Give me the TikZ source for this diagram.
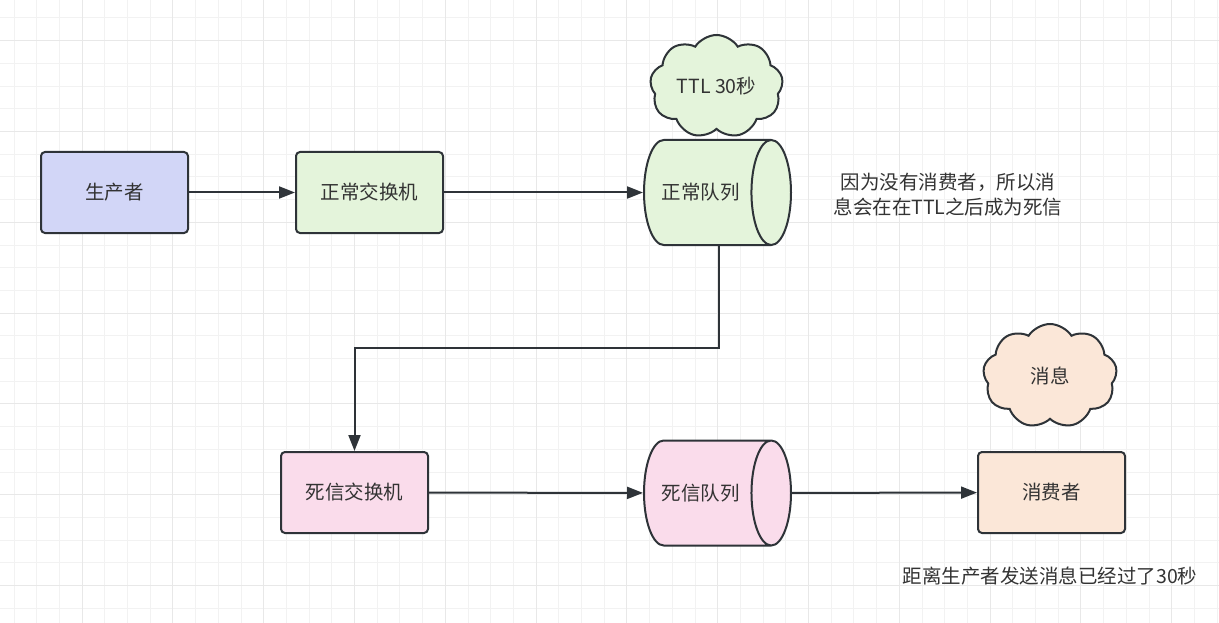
\documentclass[tikz,border=0pt]{standalone}
\usepackage{fontspec}
\setmainfont{Noto Sans CJK SC}
\usepackage{xcolor}
\usepackage{tikz}
\usetikzlibrary{shapes.geometric}
\usetikzlibrary{shapes.symbols}
\usetikzlibrary{arrows.meta}
\definecolor{gridminor}{HTML}{F2F2F2}
\definecolor{gridmajor}{HTML}{E8E8E8}
\definecolor{edge}{HTML}{2E3338}
\definecolor{txt}{HTML}{333333}
\definecolor{prodblue}{HTML}{D2D6F7}
\definecolor{normgreen}{HTML}{E4F4DB}
\definecolor{deadpink}{HTML}{FADCEB}
\definecolor{conspeach}{HTML}{FBE7D8}
\tikzset{box/.style={draw=edge, line width=2pt, rounded corners=4pt, minimum width=147pt, minimum height=81pt, text=txt}}
\tikzset{queue/.style={draw=edge, line width=2pt, cylinder, aspect=1.6, minimum width=105pt, minimum height=147pt, cylinder uses custom fill, text=txt, anchor=west}}
\tikzset{puff/.style={draw=edge, line width=2pt, cloud, cloud puffs=9, cloud puff arc=115, cloud ignores aspect, text=txt}}
\tikzset{arr/.style={draw=edge, line width=2pt, -{Triangle[length=16pt,width=12pt]}}}

\begin{document}
\begin{tikzpicture}[x=1pt,y=-1pt,font=\fontsize{19.5}{25}\selectfont]
{
\useasboundingbox (0,0) rectangle (1219,623);
\fill[white] (0,0) rectangle (1219,623);
% grid
\foreach \i in {0,...,53} {
  \draw[gridminor, line width=1pt] (14+22.7*\i,0) -- (14+22.7*\i,623);
}
\foreach \i in {0,...,27} {
  \draw[gridminor, line width=1pt] (0,18+22.7*\i) -- (1219,18+22.7*\i);
}
\foreach \i in {0,...,12} {
  \draw[gridmajor, line width=1pt] (82.1+90.8*\i,0) -- (82.1+90.8*\i,623);
}
\foreach \i in {0,...,6} {
  \draw[gridmajor, line width=1pt] (0,40.7+90.8*\i) -- (1219,40.7+90.8*\i);
}

\node[box, fill=prodblue] (prod) at (114.5,192.5) {生产者};
\node[box, fill=normgreen] (nx) at (369.5,192.5) {正常交换机};
\node[queue, cylinder body fill=normgreen, cylinder end fill=normgreen] (nq) at (643,192.5) {\hspace*{-6pt}正常队列};
\node[puff, fill=normgreen, minimum width=133pt, minimum height=103pt] (ttl) at (716.5,86.5) {TTL 30秒};
\node[text=txt, align=center] (why) at (948,194.5) {因为没有消费者，所以消\\息会在在TTL之后成为死信};

\node[box, fill=deadpink] (dx) at (354.5,492.5) {死信交换机};
\node[queue, cylinder body fill=deadpink, cylinder end fill=deadpink] (dq) at (643,493) {\hspace*{-6pt}死信队列};
\node[box, fill=conspeach] (cons) at (1051.5,492.5) {消费者};
\node[puff, fill=conspeach, minimum width=134pt, minimum height=104pt] (msg) at (1050,376) {消息};
\node[text=txt] (late) at (1050,576) {距离生产者发送消息已经过了30秒};

\coordinate (bend) at (719,348);
\draw[arr] (prod) -- (nx);
\draw[arr] (nx) -- (nq);
\draw[arr] (bend |- nq.south) -- (bend) -| (dx.north);
\draw[arr] (dx) -- (dq);
\draw[arr] (dq) -- (cons);
}
\end{tikzpicture}
\end{document}
